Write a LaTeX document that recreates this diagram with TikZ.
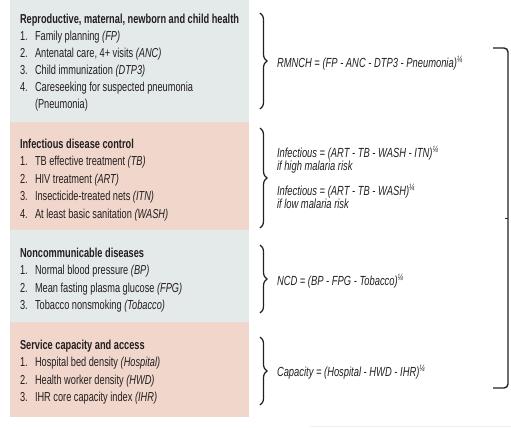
\documentclass[tikz,border=0pt]{standalone}
\usepackage{fontspec}
\setmainfont{Liberation Sans}[FakeStretch=0.71]
\usetikzlibrary{decorations.pathreplacing}
\definecolor{secgray}{RGB}{228,233,233}
\definecolor{secpink}{RGB}{240,214,203}
\definecolor{txt}{RGB}{35,31,32}
\newcommand{\qrt}{\textsuperscript{¼}}
\begin{document}
\begin{tikzpicture}[x=1pt,y=-1pt,
 every node/.style={inner sep=0pt, outer sep=0pt, text=txt, font=\fontsize{13}{15}\selectfont},
 head/.style={anchor=base west, font=\fontsize{13}{15}\selectfont\bfseries},
 num/.style={anchor=base west},
 item/.style={anchor=base west},
 formula/.style={anchor=base west, font=\fontsize{13.2}{15}\selectfont\itshape},
 brc/.style={decorate, decoration={brace, amplitude=7pt}, line width=1.2pt, draw=txt},
 bigbr/.style={line width=1.4pt, draw=txt, rounded corners=4pt},
]
\useasboundingbox (0,0) rectangle (511,428);
% section backgrounds
\fill[secgray] (10,0) rectangle (249,122);
\fill[secpink] (10,122) rectangle (249,230);
\fill[secgray] (10,230) rectangle (249,322);
\fill[secpink] (10,322) rectangle (249,417);
% faint line at bottom
\draw[black!6, line width=0.8pt] (310,426) -- (511,426);

% RMNCH
\node[head] (h1) at (20,23.5) {Reproductive, maternal, newborn and child health};
\node[num] (n11) at (20,40.5) {1.};  \node[item] (i11) at (35,40.5) {Family planning \textit{(FP)}};
\node[num] (n12) at (20,57.5) {2.};  \node[item] (i12) at (35,57.5) {Antenatal care, 4+ visits \textit{(ANC)}};
\node[num] (n13) at (20,74.5) {3.};  \node[item] (i13) at (35,74.5) {Child immunization \textit{(DTP3)}};
\node[num] (n14) at (20,91.5) {4.};  \node[item] (i14) at (35,91.5) {Careseeking for suspected pneumonia};
\node[item] (i15) at (35,108.5) {(Pneumonia)};

% Infectious
\node[head] (h2) at (20,148) {Infectious disease control};
\node[num] (n21) at (20,165.5) {1.}; \node[item] (i21) at (35,165.5) {TB effective treatment \textit{(TB)}};
\node[num] (n22) at (20,183) {2.};   \node[item] (i22) at (35,183) {HIV treatment \textit{(ART)}};
\node[num] (n23) at (20,200.5) {3.}; \node[item] (i23) at (35,200.5) {Insecticide-treated nets \textit{(ITN)}};
\node[num] (n24) at (20,218) {4.};   \node[item] (i24) at (35,218) {At least basic sanitation \textit{(WASH)}};

% NCD
\node[head] (h3) at (20,257) {Noncommunicable diseases};
\node[num] (n31) at (20,274.5) {1.}; \node[item] (i31) at (35,274.5) {Normal blood pressure \textit{(BP)}};
\node[num] (n32) at (20,292) {2.};   \node[item] (i32) at (35,292) {Mean fasting plasma glucose \textit{(FPG)}};
\node[num] (n33) at (20,309.5) {3.}; \node[item] (i33) at (35,309.5) {Tobacco nonsmoking \textit{(Tobacco)}};

% Capacity
\node[head] (h4) at (20,349) {Service capacity and access};
\node[num] (n41) at (20,366.5) {1.}; \node[item] (i41) at (35,366.5) {Hospital bed density \textit{(Hospital)}};
\node[num] (n42) at (20,384) {2.};   \node[item] (i42) at (35,384) {Health worker density \textit{(HWD)}};
\node[num] (n43) at (20,401.5) {3.}; \node[item] (i43) at (35,401.5) {IHR core capacity index \textit{(IHR)}};

% formulas
\node[formula] (f1) at (277,67) {RMNCH = (FP - ANC - DTP3 - Pneumonia)\qrt};
\node[formula] (f2a) at (277,157) {Infectious = (ART - TB - WASH - ITN)\qrt};
\node[formula] (f2b) at (277,170.5) {if high malaria risk};
\node[formula] (f2c) at (277,195) {Infectious = (ART - TB - WASH)\qrt};
\node[formula] (f2d) at (277,208.5) {if low malaria risk};
\node[formula] (f3) at (277,285) {NCD = (BP - FPG - Tobacco)\qrt};
\node[formula] (f4) at (277,376) {Capacity = (Hospital - HWD - IHR)\qrt};

% braces
\coordinate (b1t) at (260,13);  \coordinate (b1b) at (260,109);
\coordinate (b2t) at (260,128); \coordinate (b2b) at (260,228);
\coordinate (b3t) at (260,245); \coordinate (b3b) at (260,313);
\coordinate (b4t) at (260,337); \coordinate (b4b) at (260,405);
\draw[brc] (b1t) -- (b1b);
\draw[brc] (b2t) -- (b2b);
\draw[brc] (b3t) -- (b3b);
\draw[brc] (b4t) -- (b4b);

% big right bracket
\coordinate (rt) at (493,48);
\coordinate (rb) at (493,388);
\coordinate (rm) at (508,218);
\draw[bigbr] (rt) -- (508,48) -- (508,388) -- (rb);
\draw[line width=1pt, draw=txt] (rm) -- ++(-3,0);
\end{tikzpicture}
\end{document}
